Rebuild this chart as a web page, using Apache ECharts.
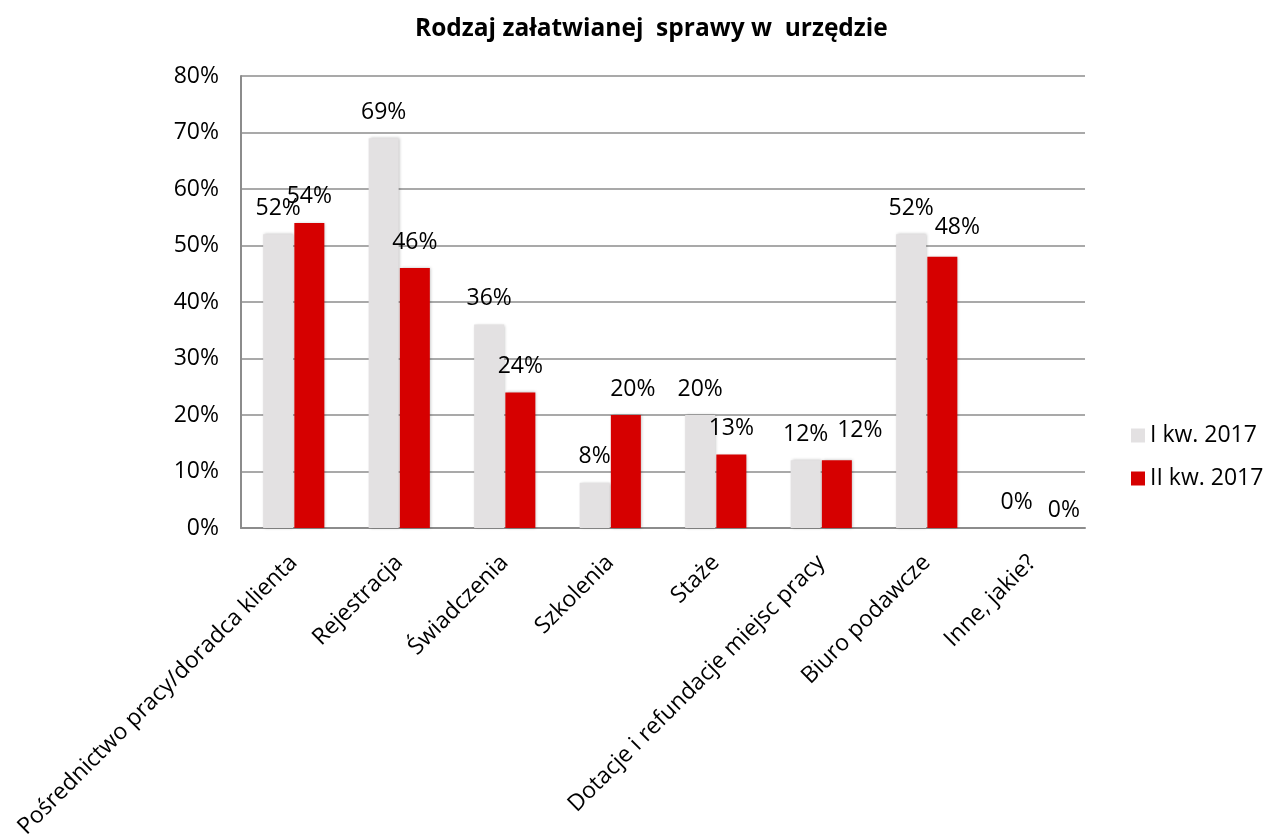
<!DOCTYPE html>
<html>
<head>
<meta charset="utf-8">
<script src="https://cdn.jsdelivr.net/npm/echarts@6/dist/echarts.min.js"></script>
<style>html,body{margin:0;padding:0;background:#fff}#c{width:1267px;height:838px}</style>
</head>
<body>
<div id="c"></div>
<script>
const categories = ['Pośrednictwo pracy/doradca klienta','Rejestracja','Świadczenia','Szkolenia','Staże','Dotacje i refundacje miejsc pracy','Biuro podawcze','Inne, jakie?'];
const seriesNames = ['I kw. 2017','II kw. 2017'];
const q1Values = [52, 69, 36, 8, 20, 12, 52, 0];
const q2Values = [54, 46, 24, 20, 13, 12, 48, 0];
const yTicks = [0, 10, 20, 30, 40, 50, 60, 70, 80];

const FONT = 'Open Sans';
const FS = 23;
// manual label nudges seen in the reference (x, y) for the second series
const q2LabelNudge = {3: [7, 0], 5: [23, -4], 6: [15, -3], 7: [16, 8]};

const chart = echarts.init(document.getElementById('c'));
const labelStyle = {show: true, position: 'top', distance: 14, color: '#000', fontSize: FS, lineHeight: 24, fontFamily: FONT, formatter: p => p.value + '%'};
chart.setOption({
  animation: false,
  title: {text: 'Rodzaj załatwianej  sprawy w  urzędzie', left: 410, top: 12,
    textStyle: {fontFamily: FONT, fontWeight: 'bold', fontSize: 24.5, color: '#000'}},
  grid: {left: 241, right: 182, top: 76, bottom: 310, containLabel: false, outerBoundsMode: 'none'},
  legend: {orient: 'vertical', left: 1126, top: 419, itemGap: 20, itemWidth: 14, itemHeight: 14,
    icon: 'rect', textStyle: {fontFamily: FONT, fontSize: FS, color: '#000'}, data: seriesNames},
  xAxis: {type: 'category', data: categories,
    axisLine: {lineStyle: {color: '#8c8c8c', width: 2}}, axisTick: {show: false},
    axisLabel: {rotate: 45, interval: 0, fontFamily: FONT, fontSize: FS, color: '#000', margin: 31}},
  yAxis: {type: 'value', min: yTicks[0], max: yTicks[yTicks.length-1], interval: 10,
    axisLine: {show: true, lineStyle: {color: '#8c8c8c', width: 2}}, axisTick: {show: false},
    splitLine: {lineStyle: {color: '#8c8c8c', width: 1.5}},
    axisLabel: {formatter: v => v + '%', fontFamily: FONT, fontSize: FS, color: '#000', margin: 22}},
  series: [
    {name: seriesNames[0], type: 'bar', barWidth: 30, barGap: '4%',
     itemStyle: {color: '#e3e1e2', shadowColor: 'rgba(0,0,0,0.25)', shadowBlur: 3, shadowOffsetX: 1},
     label: labelStyle, data: q1Values},
    {name: seriesNames[1], type: 'bar', barWidth: 30,
     itemStyle: {color: '#d60000', shadowColor: 'rgba(0,0,0,0.25)', shadowBlur: 3, shadowOffsetX: 1},
     label: labelStyle,
     data: q2Values.map((v, i) => q2LabelNudge[i] ? {value: v, label: {offset: q2LabelNudge[i]}} : v)}
  ]
});
</script>
</body>
</html>
